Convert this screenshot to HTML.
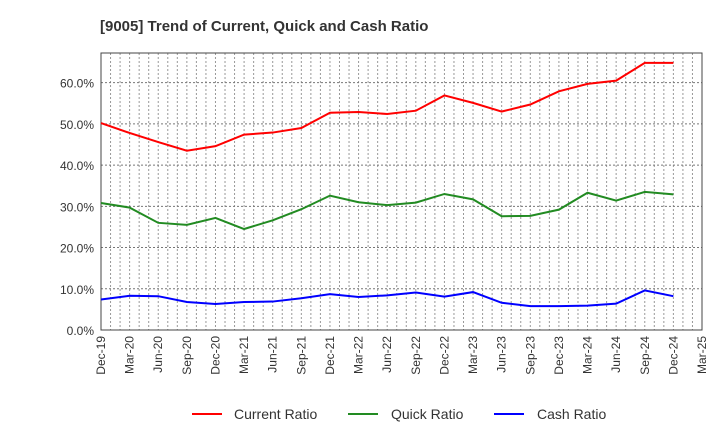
<!DOCTYPE html>
<html><head><meta charset="utf-8"><style>
body{margin:0;background:#fff;font-family:"Liberation Sans",sans-serif}
</style></head><body>
<svg id="c" width="720" height="440" xmlns="http://www.w3.org/2000/svg">
<text x="100" y="31" font-size="15" font-weight="bold" fill="#333">[9005]  Trend of Current, Quick and Cash Ratio</text>
<g id="grid"></g><g id="axes"></g><g id="series"></g>
<g>
<g><line x1="192" y1="414" x2="222" y2="414" stroke="#f00" stroke-width="2"/><text x="234" y="419" font-size="14" fill="#333">Current Ratio</text></g>
<g><line x1="348" y1="414" x2="378" y2="414" stroke="#228b22" stroke-width="2"/><text x="391" y="419" font-size="14" fill="#333">Quick Ratio</text></g>
<g><line x1="494" y1="414" x2="524" y2="414" stroke="#00f" stroke-width="2"/><text x="537" y="419" font-size="14" fill="#333">Cash Ratio</text></g>
</g>
</svg>
<script>
const categories=["Dec-19","Mar-20","Jun-20","Sep-20","Dec-20","Mar-21","Jun-21","Sep-21","Dec-21","Mar-22","Jun-22","Sep-22","Dec-22","Mar-23","Jun-23","Sep-23","Dec-23","Mar-24","Jun-24","Sep-24","Dec-24","Mar-25"];
const currentRatio=[50.2,47.8,45.6,43.5,44.6,47.4,47.9,49.0,52.7,52.9,52.4,53.2,56.9,55.1,53.0,54.7,57.9,59.7,60.5,64.8,64.8];
const quickRatio=[30.8,29.7,26.0,25.5,27.2,24.5,26.6,29.3,32.6,31.0,30.3,30.9,33.0,31.7,27.6,27.7,29.2,33.3,31.4,33.5,32.9];
const cashRatio=[7.4,8.3,8.2,6.8,6.3,6.8,6.9,7.7,8.7,8.0,8.4,9.1,8.1,9.2,6.6,5.8,5.8,5.9,6.4,9.6,8.2];
const yTicks=[0,10,20,30,40,50,60];
const L=101,R=702,T=53,B=330,YMAX=67.2;
const NS="http://www.w3.org/2000/svg";
const xs=i=>L+(R-L)*i/(categories.length-1);
const ys=v=>B-(B-T)*v/YMAX;
function mk(p,t,a){const e=document.createElementNS(NS,t);for(const k in a)e.setAttribute(k,a[k]);p.appendChild(e);return e;}
const grid=document.getElementById('grid'),axes=document.getElementById('axes'),ser=document.getElementById('series');
for(let m=1;m<(categories.length-1)*3;m++){const x=L+(R-L)*m/((categories.length-1)*3);
const g=mk(grid,'line',{x1:x,x2:x,y1:T,y2:B,stroke:'#999','stroke-dasharray':'2,2','stroke-width':1});

}
yTicks.forEach(v=>{const y=ys(v);
if(v>0){const g=mk(grid,'line',{x1:L,x2:R,y1:y,y2:y,stroke:'#777','stroke-dasharray':'2,2','stroke-width':1});

}
const t=mk(axes,'text',{x:L-7,y:y+5,'text-anchor':'end','font-size':12,fill:'#333'});t.textContent=v.toFixed(1)+'%';

});
const fr=mk(axes,'rect',{x:L,y:T,width:R-L,height:B-T,fill:'none',stroke:'#444','stroke-width':1});


categories.forEach((c,i)=>{const x=xs(i);
const t=mk(axes,'text',{x:x+4,y:B+6,'text-anchor':'end','font-size':12,fill:'#333',transform:`rotate(-90 ${x+4} ${B+6})`});t.textContent=c;

});
[[currentRatio,'#f00','current-ratio-line'],[quickRatio,'#228b22','quick-ratio-line'],[cashRatio,'#00f','cash-ratio-line']].forEach(([d,col,n])=>{
const p=mk(ser,'polyline',{points:d.map((v,i)=>xs(i)+','+ys(v)).join(' '),fill:'none',stroke:col,'stroke-width':2});

});
</script>
</body></html>
